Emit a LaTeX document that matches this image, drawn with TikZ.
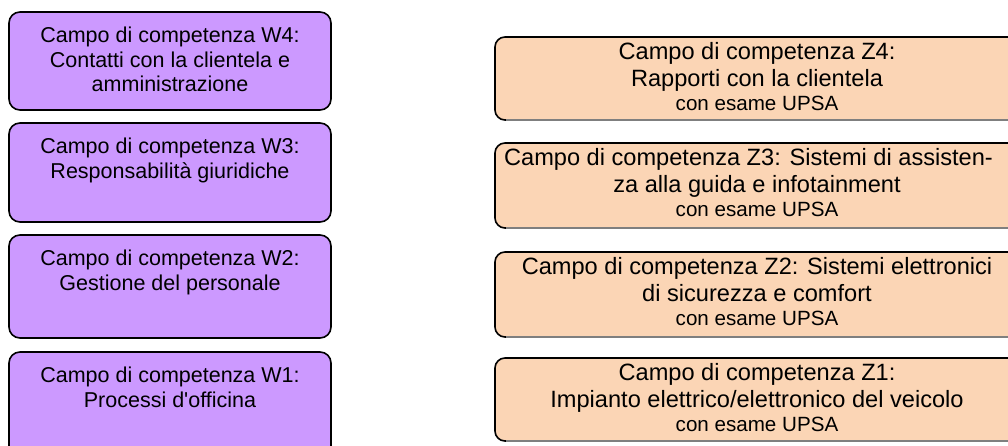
\documentclass[tikz,border=0pt]{standalone}
\usepackage{fontspec}
\setmainfont{Liberation Sans}[Ligatures=TeXOff]
\definecolor{wfill}{HTML}{CC99FF}
\definecolor{zfill}{HTML}{FBD5B5}
\definecolor{zbottom}{HTML}{7F7F7F}
\begin{document}
\begin{tikzpicture}[x=1pt,y=-1pt,
  wbox/.style={draw=black, line width=1.6pt, fill=wfill, rounded corners=11pt},
  zbox/.style={draw=black, line width=1.6pt, fill=zfill, rounded corners=10pt},
  zedge/.style={draw=zbottom, line width=1.4pt},
  wtext/.style={anchor=north, align=center, inner sep=0pt, font=\fontsize{21.5}{24.5}\selectfont},
  ztext/.style={anchor=north, align=center, inner sep=0pt, font=\fontsize{23.6}{27}\selectfont}
]
\useasboundingbox (0,0) rectangle (1008,446);
\clip (0,0) rectangle (1008,446);
\newcommand{\upsa}{{\fontsize{20.6}{24}\selectfont con esame UPSA}}
% W boxes
\draw[wbox] (9,12) rectangle (331,110) coordinate (w4c);
\node[wtext] (w4) at (170,27) {Campo di competenza W4:\\Contatti con la clientela e\\amministrazione};
\draw[wbox] (9,123) rectangle (331,222) coordinate (w3c);
\node[wtext] (w3) at (170,138) {Campo di competenza W3:\\Responsabilità giuridiche};
\draw[wbox] (9,235) rectangle (331,338) coordinate (w2c);
\node[wtext] (w2) at (170,250) {Campo di competenza W2:\\Gestione del personale};
\draw[wbox] (9,352) rectangle (331,460) coordinate (w1c);
\node[wtext] (w1) at (170,367) {Campo di competenza W1:\\Processi d'officina};
% Z boxes
\draw[zbox] (495,37) rectangle (1040,120) coordinate (z4c);
\draw[zedge] (506,120) -- (1040,120);
\node[ztext] (z4) at (757,42) {Campo di competenza Z4:\\Rapporti con la clientela\\[-3pt]\upsa};
\draw[zbox] (495,143) rectangle (1040,228) coordinate (z3c);
\draw[zedge] (506,228) -- (1040,228);
\node[ztext] (z3) at (757,148) {Campo di competenza Z3: Sistemi di assisten-\hspace*{17pt}\\za alla guida e infotainment\\[-3pt]\upsa};
\draw[zbox] (495,252) rectangle (1040,337) coordinate (z2c);
\draw[zedge] (506,337) -- (1040,337);
\node[ztext] (z2) at (757,257) {Campo di competenza Z2: Sistemi elettronici\\di sicurezza e comfort\\[-3pt]\upsa};
\draw[zbox] (495,358) rectangle (1040,441) coordinate (z1c);
\draw[zedge] (506,441) -- (1040,441);
\node[ztext] (z1) at (757,363) {Campo di competenza Z1:\\Impianto elettrico/elettronico del veicolo\\[-3pt]\upsa};
\end{tikzpicture}
\end{document}
